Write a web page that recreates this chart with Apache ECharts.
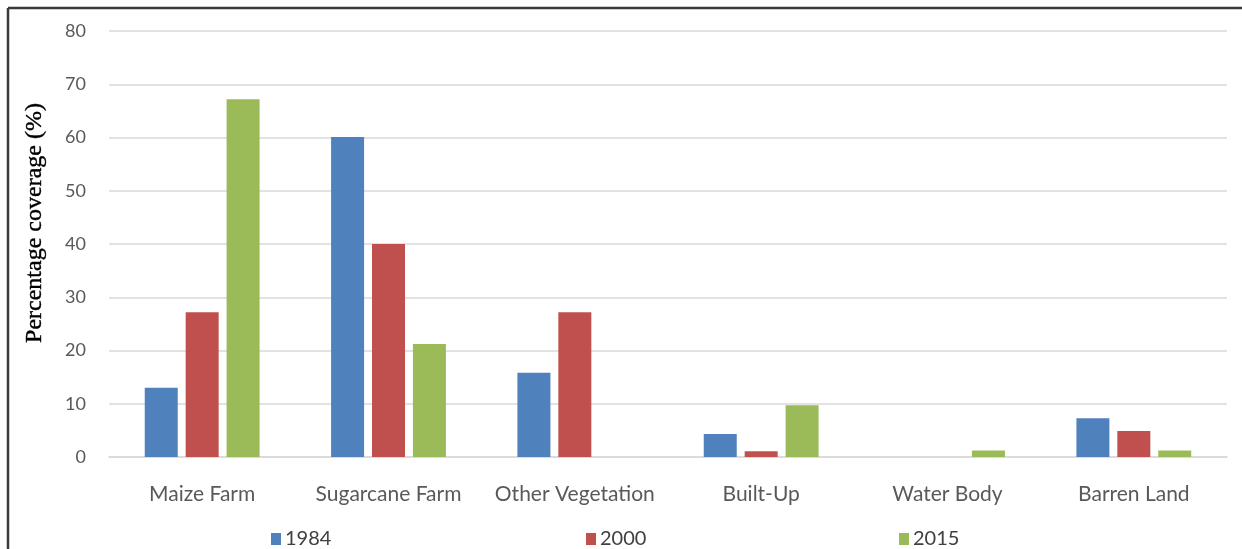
<!DOCTYPE html>
<html>
<head>
<meta charset="utf-8">
<script src="https://cdn.jsdelivr.net/npm/echarts@6/dist/echarts.min.js"></script>
<style>
  html, body { margin: 0; padding: 0; background: #ffffff; }
  #chart { width: 1242px; height: 549px; }
</style>
</head>
<body>
<div id="chart"></div>
<script>
// Land cover categories and the share of area (%) for each survey year
const categories = ['Maize Farm', 'Sugarcane Farm', 'Other Vegetation', 'Built-Up', 'Water Body', 'Barren Land'];
const years = ['1984', '2000', '2015'];
const cover1984 = [13, 60.1, 15.8, 4.3, 0, 7.3];
const cover2000 = [27.2, 40, 27.2, 1.1, 0, 4.9];
const cover2015 = [67.2, 21.2, 0, 9.7, 1.2, 1.2];
const yTicks = { min: 0, max: 80, interval: 10 };
const yTitle = 'Percentage coverage (%)';

const colors = ['#4f81bd', '#c0504d', '#9bbb59'];
const seriesValues = [cover1984, cover2000, cover2015];

const chart = echarts.init(document.getElementById('chart'), null, { renderer: 'canvas' });

const series = years.map((y, i) => ({
  name: y,
  type: 'bar',
  data: seriesValues[i],
  barWidth: 33,
  barGap: '24%',
  itemStyle: { color: colors[i] },
  animation: false
}));

// one legend per year so the three entries sit evenly across the bottom
const legendLeft = [266, 581, 894];
const legends = years.map((y, i) => ({
  data: [y],
  left: legendLeft[i],
  top: 524,
  icon: 'rect',
  itemWidth: 10,
  itemHeight: 12,
  itemGap: 6,
  textStyle: { fontFamily: 'Lato', fontSize: 20, color: '#404040', padding: [0, 0, 0, -1] }
}));

chart.setOption({
  color: colors,
  animation: false,
  grid: { left: 109, right: 15, top: 31, bottom: 92 },
  legend: legends,
  xAxis: {
    type: 'category',
    data: categories,
    axisTick: { show: false },
    axisLine: { show: true, lineStyle: { color: '#d9d9d9', width: 1.5 } },
    axisLabel: { interval: 0, fontFamily: 'Lato', fontSize: 21, color: '#595959', margin: 27 }
  },
  yAxis: {
    type: 'value',
    min: yTicks.min,
    max: yTicks.max,
    interval: yTicks.interval,
    axisLine: { show: false },
    axisTick: { show: false },
    splitLine: { lineStyle: { color: '#d9d9d9', width: 1.5 } },
    axisLabel: { fontFamily: 'Lato', fontSize: 18, color: '#595959', margin: 23 }
  },
  series: series,
  graphic: [
    {
      type: 'text',
      x: 35,
      y: 223,
      rotation: Math.PI / 2,
      style: {
        text: yTitle,
        font: '24px "Liberation Serif"',
        fill: '#000000',
        stroke: '#000000',
        lineWidth: 0.4,
        align: 'center',
        verticalAlign: 'middle'
      }
    },
    // frame lines along the top and left edges
    { type: 'line', shape: { x1: 8, y1: 8, x2: 1242, y2: 8 }, style: { stroke: '#3a3a3a', lineWidth: 2.5 } },
    { type: 'line', shape: { x1: 8, y1: 8, x2: 8, y2: 549 }, style: { stroke: '#3a3a3a', lineWidth: 2.5 } }
  ]
});
</script>
</body>
</html>
